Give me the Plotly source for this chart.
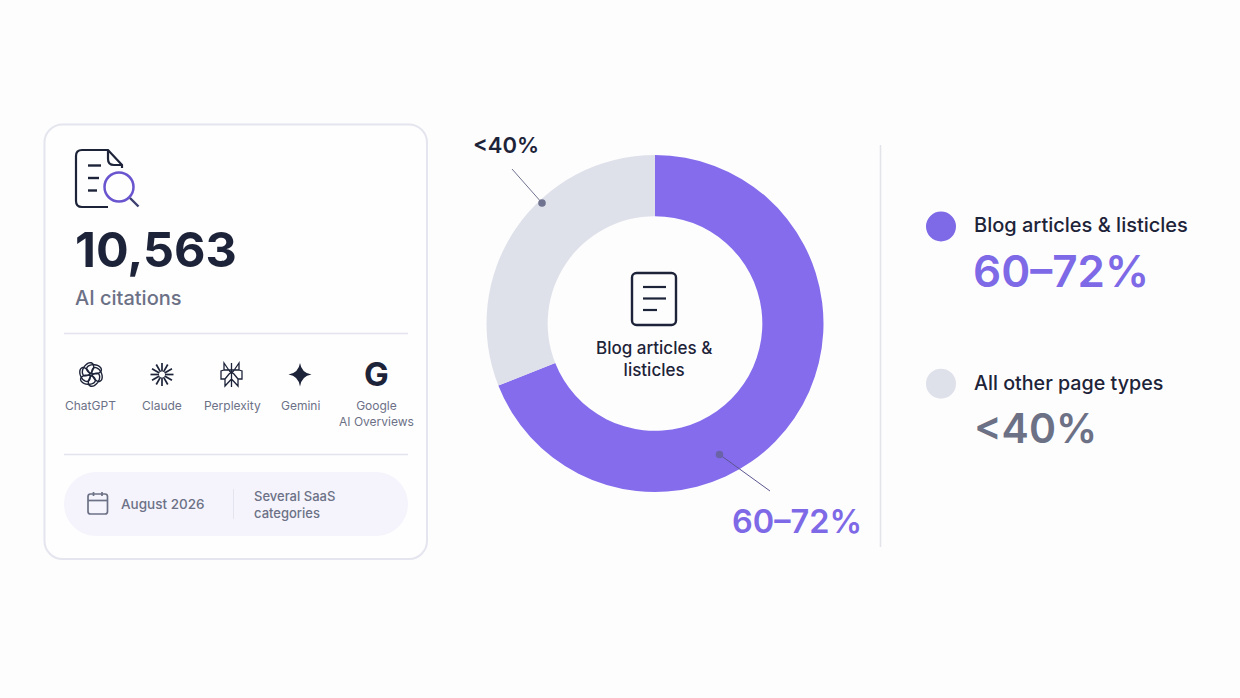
import math
import plotly.graph_objects as go

W, H = 1240, 698

# ---- data ----
segments = ["Blog articles & listicles", "All other page types"]
shares = [69, 31]
segment_colors = ["#846CEC", "#DFE1EA"]
range_labels = ["60–72%", "<40%"]
platforms = ["ChatGPT", "Claude", "Perplexity", "Gemini", "Google<br>AI Overviews"]
citations = "10,563"

INK = "#1D2338"
GREY = "#6C7186"
PURPLE = "#7E69E6"
FONT = "Inter"


def X(v):
    return v / W


def Y(v):
    return 1 - v / H


def P(cmds):
    """Build a paper-space SVG path from pixel-space commands."""
    out = []
    for c in cmds:
        if isinstance(c, str):
            out.append(c)
        else:
            out.append(f"{X(c[0]):.5f},{Y(c[1]):.5f}")
    return " ".join(out)


shapes = []


def path(cmds, color=None, width=0, fill=None, layer="above"):
    shapes.append(dict(type="path", xref="paper", yref="paper", path=P(cmds), layer=layer,
                       line=dict(color=color or "rgba(0,0,0,0)", width=width),
                       fillcolor=fill or "rgba(0,0,0,0)"))


def line(x0, y0, x1, y1, color, width=1.0, layer="above"):
    shapes.append(dict(type="line", xref="paper", yref="paper", x0=X(x0), y0=Y(y0), x1=X(x1), y1=Y(y1),
                       line=dict(color=color, width=width), layer=layer))


def circle(cx, cy, r, fill=None, color=None, width=0, layer="above"):
    shapes.append(dict(type="circle", xref="paper", yref="paper",
                       x0=X(cx - r), x1=X(cx + r), y0=Y(cy - r), y1=Y(cy + r), layer=layer,
                       fillcolor=fill or "rgba(0,0,0,0)",
                       line=dict(color=color or "rgba(0,0,0,0)", width=width)))


def rrect(x0, y0, x1, y1, r, **kw):
    k = r * 0.45
    path(["M", (x0 + r, y0), "L", (x1 - r, y0),
          "C", (x1 - k, y0), (x1, y0 + k), (x1, y0 + r), "L", (x1, y1 - r),
          "C", (x1, y1 - k), (x1 - k, y1), (x1 - r, y1), "L", (x0 + r, y1),
          "C", (x0 + k, y1), (x0, y1 - k), (x0, y1 - r), "L", (x0, y0 + r),
          "C", (x0, y0 + k), (x0 + k, y0), (x0 + r, y0), "Z"], **kw)


def ellipse_rot(cx, cy, a, b, deg, **kw):
    t = math.radians(deg)
    c, s = math.cos(t), math.sin(t)
    n = 28
    pts = []
    for i in range(n):
        u = 2 * math.pi * i / n
        ex, ey = a * math.cos(u), b * math.sin(u)
        pts.append((cx + ex * c - ey * s, cy + ex * s + ey * c))
    cmds = ["M", pts[0]]
    for p in pts[1:]:
        cmds += ["L", p]
    cmds.append("Z")
    path(cmds, **kw)


annotations = []


def text(x, y, s, size, color, weight=400, anchor="left", vanchor="middle"):
    annotations.append(dict(xref="paper", yref="paper", x=X(x), y=Y(y), text=s, showarrow=False,
                            xanchor=anchor, yanchor=vanchor, align=anchor,
                            font=dict(family=FONT, size=size, color=color, weight=weight),
                            borderpad=0, borderwidth=0))


# ---- card ----
rrect(44.5, 124.5, 427, 559, 18, color="#E4E5EE", width=2, fill="#FEFEFF", layer="below")
line(64, 333.5, 408, 333.5, "#E3E4EE", 1.5)
line(64, 454.5, 408, 454.5, "#E3E4EE", 1.5)
rrect(64, 472, 408, 536, 32, fill="#F5F4FC", layer="below")
line(233.5, 489, 233.5, 519, "#E4E4EE", 1)

# document + magnifier icon
path(["M", (108, 207), "L", (82, 207), "C", (78, 207), (76, 205), (76, 201), "L", (76, 156),
      "C", (76, 152), (78, 150), (82, 150), "L", (108, 150), "L", (122, 165), "L", (122, 168)],
     color=INK, width=2.2)
path(["M", (108, 150), "L", (108, 159), "C", (108, 163), (110, 165), (114, 165), "L", (122, 165)],
     color=INK, width=2.2)
line(88, 165.5, 101, 165.5, INK, 2.4)
line(88, 178, 99, 178, INK, 2.4)
line(88, 190.5, 97, 190.5, INK, 2.4)
circle(119, 187, 14.5, color="#6A55CF", width=2.5, fill="#FEFEFF")
line(130, 198, 138.5, 206.5, "#3D3F70", 2.4)

text(75, 250, citations, 48.5, INK, 700)
text(75, 298, "AI citations", 20, GREY, 500)

# platform icons
for i in range(6):
    a = i * 60
    ellipse_rot(91 + 6.0 * math.cos(math.radians(a)), 374.5 + 6.0 * math.sin(math.radians(a)),
                7.4, 4.6, a + 65, color=INK, width=1.4)
for i in range(12):
    a = math.radians(i * 30)
    line(162 + 3 * math.cos(a), 374.5 + 3 * math.sin(a), 162 + 11.5 * math.cos(a), 374.5 + 11.5 * math.sin(a), INK, 1.7)
path(["M", (231.5, 363), "L", (231.5, 387), "M", (231.5, 374), "L", (224, 363), "L", (224, 370), "L", (239, 370),
      "L", (239, 363), "L", (231.5, 374), "M", (224, 370), "L", (221, 371), "L", (221, 379), "L", (225, 379),
      "L", (225, 386), "L", (231.5, 379), "L", (238, 386), "L", (238, 379), "L", (242, 379), "L", (242, 371),
      "L", (239, 370), "M", (225, 379), "L", (231.5, 371), "L", (238, 379)],
     color=INK, width=1.3)
path(["M", (300, 363), "Q", (301.5, 373), (311.5, 374.5), "Q", (301.5, 376), (300, 386.5),
      "Q", (298.5, 376), (288.5, 374.5), "Q", (298.5, 373), (300, 363), "Z"], fill=INK)
text(376, 374, "G", 33, INK, 700, "center")

label_x = [91, 162, 232, 300, 376]
for lx, name in zip(label_x, platforms):
    text(lx, 398, name, 12, GREY, 400, "center", "top")

# calendar
rrect(88, 494, 107.5, 514, 2.5, color=GREY, width=1.7)
line(88, 500.5, 107.5, 500.5, GREY, 1.7)
line(93.5, 492, 93.5, 496, GREY, 1.7)
line(102, 492, 102, 496, GREY, 1.7)
text(121, 504, "August 2026", 13.5, GREY, 500)
text(253.5, 504.5, "Several SaaS<br>categories", 13, GREY, 500)

# donut centre icon and text
rrect(632, 273, 676, 325, 4.5, color=INK, width=2.4)
line(643, 287, 666, 287, INK, 2.2)
line(643, 298.5, 666, 298.5, INK, 2.2)
line(643, 310, 657, 310, INK, 2.2)
text(654, 359, "Blog articles &<br>listicles", 17, INK, 500, "center")

# donut callouts
line(512, 169, 542, 203, "#6F7390", 1)
circle(542, 203, 3.8, fill="#6F7390")
line(719.5, 454.5, 770, 491, "#5B5690", 1)
circle(719.5, 454.5, 3.8, fill="#6A63A8")
text(473, 145, range_labels[1], 22, INK, 600)
text(732, 521, range_labels[0], 32.5, PURPLE, 600)

# divider
line(880.5, 145, 880.5, 547, "#E3E4EA", 1.5)

# legend panel
circle(941, 226.5, 15, fill=PURPLE)
text(974, 225.5, segments[0], 20, INK, 500)
text(973, 271, range_labels[0], 44, PURPLE, 600)
circle(941, 383.7, 15, fill=segment_colors[1])
text(974, 382.5, segments[1], 19.7, INK, 500)
text(974, 428, range_labels[1], 41, GREY, 600)

fig = go.Figure(go.Pie(
    labels=segments, values=shares, hole=0.637, sort=False, direction="clockwise", rotation=0,
    marker=dict(colors=segment_colors, line=dict(width=0)),
    textinfo="none", hoverinfo="label+value", showlegend=False,
    domain=dict(x=[X(655 - 168.5), X(655 + 168.5)], y=[Y(323.5 + 168.5), Y(323.5 - 168.5)]),
))
fig.update_layout(
    width=W, height=H, margin=dict(l=0, r=0, t=0, b=0), autosize=False,
    paper_bgcolor="#FDFDFE", plot_bgcolor="#FDFDFE", showlegend=False,
    shapes=shapes, annotations=annotations,
    font=dict(family=FONT),
)
fig.write_html("out.html", config=dict(displayModeBar=False),
               post_script="document.body.style.margin='0';document.documentElement.style.overflow='hidden';")
